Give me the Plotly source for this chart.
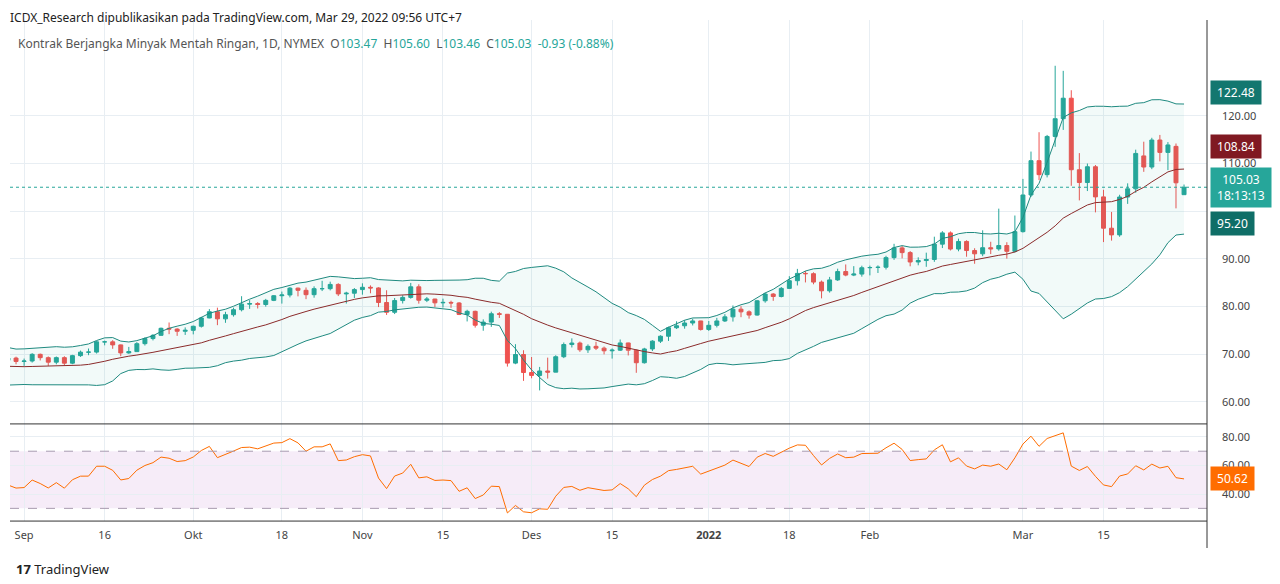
import io
import pandas as pd
import plotly.graph_objects as go

# Daily OHLC, Light Sweet Crude futures (NYMEX, continuous)
raw = """date,open,high,low,close
2021-08-02,73.70,73.90,70.90,71.26
2021-08-03,71.26,71.60,70.10,70.56
2021-08-04,70.56,70.90,67.80,68.15
2021-08-05,68.15,69.50,67.70,69.09
2021-08-06,69.09,69.40,67.80,68.28
2021-08-09,68.28,68.40,65.60,66.48
2021-08-10,66.48,68.60,66.30,68.29
2021-08-11,68.29,69.70,68.00,69.25
2021-08-12,69.25,69.60,68.40,69.09
2021-08-13,69.09,69.20,67.90,68.44
2021-08-16,68.44,68.50,65.90,67.29
2021-08-17,67.29,67.60,65.90,66.59
2021-08-18,66.59,67.00,65.20,65.46
2021-08-19,65.46,65.60,63.30,63.50
2021-08-20,63.50,63.70,61.70,62.32
2021-08-23,62.32,65.80,62.10,65.64
2021-08-24,65.64,67.70,65.50,67.54
2021-08-25,67.54,68.50,67.00,68.36
2021-08-26,68.36,68.60,67.00,67.42
2021-08-27,67.42,69.00,66.90,68.74
2021-08-30,68.74,69.80,68.30,69.21
2021-08-31,69.21,69.50,67.90,68.50
2021-09-01,68.50,69.10,67.58,68.59
2021-09-02,68.59,70.24,68.27,69.99
2021-09-03,69.99,70.15,68.71,69.29
2021-09-07,69.29,69.55,67.57,68.35
2021-09-08,68.35,69.54,67.90,69.30
2021-09-09,69.30,69.59,67.70,68.14
2021-09-10,68.14,69.89,67.93,69.72
2021-09-13,69.72,70.78,69.45,70.45
2021-09-14,70.45,71.21,69.81,70.46
2021-09-15,70.46,72.81,70.16,72.61
2021-09-16,72.61,72.87,71.88,72.61
2021-09-17,72.61,72.96,71.15,71.97
2021-09-20,71.97,72.05,69.60,70.29
2021-09-21,70.29,71.55,70.10,70.56
2021-09-22,70.56,72.55,70.52,72.23
2021-09-23,72.23,73.56,71.84,73.30
2021-09-24,73.30,74.23,72.91,73.98
2021-09-27,73.98,75.60,73.88,75.45
2021-09-28,75.45,76.67,74.22,75.29
2021-09-29,75.29,75.48,73.86,74.83
2021-09-30,74.83,75.64,74.06,75.03
2021-10-01,75.03,76.00,74.18,75.88
2021-10-04,75.88,77.85,75.60,77.62
2021-10-05,77.62,79.48,77.55,78.93
2021-10-06,78.93,79.78,76.11,77.43
2021-10-07,77.43,78.91,76.60,78.30
2021-10-08,78.30,79.78,77.90,79.35
2021-10-11,79.35,82.18,79.00,80.52
2021-10-12,80.52,81.35,79.53,80.64
2021-10-13,80.64,80.94,79.61,80.44
2021-10-14,80.44,81.62,79.99,81.31
2021-10-15,81.31,82.43,81.15,82.28
2021-10-18,82.28,83.15,80.63,82.44
2021-10-19,82.44,84.10,81.93,83.87
2021-10-20,83.87,83.99,82.15,83.42
2021-10-21,83.42,84.01,81.56,82.50
2021-10-22,82.50,84.25,81.87,83.76
2021-10-25,83.76,85.41,83.26,83.76
2021-10-26,83.76,85.23,83.40,84.65
2021-10-27,84.65,84.90,82.21,82.66
2021-10-28,82.66,83.11,80.64,82.81
2021-10-29,82.81,83.89,81.80,83.57
2021-11-01,83.57,84.88,82.50,84.05
2021-11-02,84.05,84.45,82.80,83.91
2021-11-03,83.91,84.06,79.90,80.86
2021-11-04,80.86,83.43,78.25,78.81
2021-11-05,78.81,81.80,78.44,81.27
2021-11-08,81.27,82.38,80.65,81.93
2021-11-09,81.93,84.97,81.66,84.15
2021-11-10,84.15,84.68,80.62,81.34
2021-11-11,81.34,82.02,80.95,81.59
2021-11-12,81.59,81.63,79.90,80.79
2021-11-15,80.79,81.66,79.82,80.88
2021-11-16,80.88,81.24,79.74,80.76
2021-11-17,80.76,80.95,78.22,78.36
2021-11-18,78.36,79.34,76.89,79.01
2021-11-19,79.01,79.15,75.60,76.10
2021-11-22,76.10,77.32,74.94,76.75
2021-11-23,76.75,78.94,75.75,78.50
2021-11-24,78.50,78.85,77.62,78.39
2021-11-26,78.39,78.42,67.42,68.15
2021-11-29,68.15,72.12,67.92,69.95
2021-11-30,69.95,70.85,64.43,66.18
2021-12-01,66.18,69.43,64.97,65.57
2021-12-02,65.57,67.35,62.43,66.50
2021-12-03,66.50,69.30,64.91,66.26
2021-12-06,66.26,69.80,66.25,69.49
2021-12-07,69.49,72.48,69.20,72.05
2021-12-08,72.05,73.34,71.43,72.36
2021-12-09,72.36,72.67,70.51,70.94
2021-12-10,70.94,72.08,70.29,71.67
2021-12-13,71.67,72.62,70.89,71.29
2021-12-14,71.29,71.62,69.98,70.73
2021-12-15,70.73,71.23,69.10,70.87
2021-12-16,70.87,73.10,70.69,72.38
2021-12-17,72.38,72.43,69.76,70.86
2021-12-20,70.86,70.98,66.12,68.23
2021-12-21,68.23,71.36,68.05,71.12
2021-12-22,71.12,72.96,70.68,72.76
2021-12-23,72.76,73.99,72.37,73.79
2021-12-27,73.79,75.80,72.80,75.57
2021-12-28,75.57,76.92,75.30,75.98
2021-12-29,75.98,77.16,75.37,76.56
2021-12-30,76.56,77.46,76.05,76.99
2021-12-31,76.99,77.01,74.97,75.21
2022-01-03,75.21,76.98,74.90,76.08
2022-01-04,76.08,77.64,75.63,76.99
2022-01-05,76.99,78.42,76.77,77.85
2022-01-06,77.85,80.24,76.86,79.46
2022-01-07,79.46,80.08,77.78,78.90
2022-01-10,78.90,79.20,77.47,78.23
2022-01-11,78.23,81.40,78.11,81.22
2022-01-12,81.22,82.94,80.82,82.64
2022-01-13,82.64,82.83,81.21,82.12
2022-01-14,82.12,84.11,81.93,83.82
2022-01-18,83.82,86.38,83.72,85.43
2022-01-19,85.43,87.91,84.43,86.96
2022-01-20,86.96,87.45,85.07,86.90
2022-01-21,86.90,87.19,84.68,85.14
2022-01-24,85.14,85.47,81.73,83.31
2022-01-25,83.31,86.23,82.93,85.60
2022-01-26,85.60,87.95,85.38,87.35
2022-01-27,87.35,88.84,86.36,86.61
2022-01-28,86.61,88.48,86.39,86.82
2022-01-31,86.82,88.58,86.28,88.15
2022-02-01,88.15,88.59,86.55,88.20
2022-02-02,88.20,88.65,87.05,88.26
2022-02-03,88.26,90.66,87.78,90.27
2022-02-04,90.27,93.17,89.80,92.31
2022-02-07,92.31,92.73,90.11,91.32
2022-02-08,91.32,91.65,88.45,89.36
2022-02-09,89.36,90.34,88.66,89.66
2022-02-10,89.66,91.31,88.35,89.88
2022-02-11,89.88,94.66,89.39,93.10
2022-02-14,93.10,95.82,92.28,95.46
2022-02-15,95.46,95.77,91.77,92.07
2022-02-16,92.07,94.25,91.60,93.66
2022-02-17,93.66,93.91,90.46,91.76
2022-02-18,91.76,92.24,88.98,91.07
2022-02-22,91.07,96.00,90.57,92.35
2022-02-23,92.35,93.60,91.02,92.10
2022-02-24,92.10,100.54,91.72,92.81
2022-02-25,92.81,93.50,90.06,91.59
2022-02-28,91.59,99.10,91.34,95.72
2022-03-01,95.72,106.78,95.53,103.41
2022-03-02,103.41,112.51,103.00,110.60
2022-03-03,110.60,116.57,106.53,107.67
2022-03-04,107.67,116.00,107.09,115.68
2022-03-07,115.68,130.50,113.50,119.40
2022-03-08,119.40,129.44,117.05,123.70
2022-03-09,123.70,125.37,105.33,108.70
2022-03-10,108.70,112.19,102.27,106.02
2022-03-11,106.02,110.00,104.23,109.33
2022-03-14,109.33,109.69,99.76,103.01
2022-03-15,103.01,104.49,93.53,96.44
2022-03-16,96.44,99.85,93.84,95.04
2022-03-17,95.04,103.45,94.64,102.98
2022-03-18,102.98,105.85,101.54,104.70
2022-03-21,104.70,112.91,103.86,112.12
2022-03-22,111.60,114.58,108.26,109.27
2022-03-23,109.27,115.40,108.82,114.93
2022-03-24,114.93,116.00,110.45,112.34
2022-03-25,112.34,114.50,108.63,113.90
2022-03-28,113.60,114.20,100.60,105.96
2022-03-29,103.47,105.60,103.46,105.03
"""
df = pd.read_csv(io.StringIO(raw), parse_dates=["date"])

# Bollinger Bands (20, 2) and RSI (14) like TradingView
df["basis"] = df["close"].rolling(20).mean()
sd = df["close"].rolling(20).std(ddof=0)
df["upper"] = df["basis"] + 2 * sd
df["lower"] = df["basis"] - 2 * sd
delta = df["close"].diff()
gain = delta.clip(lower=0).ewm(alpha=1 / 14, adjust=False).mean()
loss = (-delta.clip(upper=0)).ewm(alpha=1 / 14, adjust=False).mean()
df["rsi"] = 100 - 100 / (1 + gain / loss)

# bar index, Sep 1 = 0 (weekends/holidays skipped like TradingView)
start = df.index[df["date"] == "2021-09-01"][0]
df["i"] = df.index - start
d = df[df["i"] >= -2]

tick_dates = {"2021-09-01": "Sep", "2021-09-16": "16", "2021-10-01": "Okt", "2021-10-18": "18",
              "2021-11-01": "Nov", "2021-11-15": "15", "2021-12-01": "Des", "2021-12-15": "15",
              "2022-01-03": "<b>2022</b>", "2022-01-18": "18", "2022-02-01": "Feb",
              "2022-03-01": "Mar", "2022-03-15": "15"}
tickvals = [int(df.loc[df["date"] == k, "i"].iloc[0]) for k in tick_dates]
ticktext = list(tick_dates.values())

UP, DOWN = "#26a69a", "#ef5350"
BAND, MID = "#1f8a80", "#8b2b2b"
RSI_C = "#ff6d00"
GRID = "#e8eef3"

fig = go.Figure()
fig.add_trace(go.Scatter(x=d["i"], y=d["upper"], mode="lines", line=dict(color=BAND, width=1),
                         hoverinfo="skip"))
fig.add_trace(go.Scatter(x=d["i"], y=d["lower"], mode="lines", line=dict(color=BAND, width=1),
                         fill="tonexty", fillcolor="rgba(38,166,154,0.06)", hoverinfo="skip"))
fig.add_trace(go.Scatter(x=d["i"], y=d["basis"], mode="lines", line=dict(color=MID, width=1),
                         hoverinfo="skip"))
fig.add_trace(go.Candlestick(x=d["i"], open=d["open"], high=d["high"], low=d["low"], close=d["close"],
                             increasing=dict(line=dict(color=UP, width=1), fillcolor=UP),
                             decreasing=dict(line=dict(color=DOWN, width=1), fillcolor=DOWN),
                             whiskerwidth=0))
fig.add_trace(go.Scatter(x=d["i"], y=d["rsi"], mode="lines", line=dict(color=RSI_C, width=1),
                         xaxis="x2", yaxis="y2"))

last = df.iloc[-1]
xr = [-1.75, 146.85]
axis_font = dict(family="Noto Sans, DejaVu Sans", size=11, color="#444")
price_ticks = list(range(60, 121, 10))
price_text = ["" if v == 100 else f"{v:.2f}" for v in price_ticks]  # 100 hidden under price tag

# page body has an 8px margin, so offsets are shifted by 8px
fig.update_layout(
    width=1280, height=584, paper_bgcolor="white", plot_bgcolor="white",
    margin=dict(l=2, r=81, t=12, b=44, autoexpand=False), showlegend=False,
    font=dict(family="Noto Sans, DejaVu Sans", size=11, color="#444"),
    xaxis=dict(range=xr, tickvals=tickvals, showticklabels=False, gridcolor=GRID,
               rangeslider=dict(visible=False), zeroline=False, anchor="y", automargin=False),
    yaxis=dict(domain=[0.235, 1], range=[55.4, 140.1], side="right", tickvals=price_ticks,
               ticktext=price_text, gridcolor=GRID, zeroline=False, tickfont=axis_font,
               ticklabelstandoff=14, automargin=False),
    xaxis2=dict(range=xr, tickvals=tickvals, ticktext=ticktext, gridcolor=GRID, anchor="y2",
                zeroline=False, tickfont=axis_font, ticks="", ticklabelstandoff=6, automargin=False),
    yaxis2=dict(domain=[0.051, 0.235], range=[21.1, 89.1], side="right", tickvals=[40, 60, 80],
                tickformat=".2f", gridcolor=GRID, zeroline=False, tickfont=axis_font,
                ticklabelstandoff=14, automargin=False),
)

shapes = [
    dict(type="rect", xref="x2", yref="y2", x0=xr[0], x1=xr[1], y0=30, y1=70,
         fillcolor="rgba(156,39,176,0.09)", line=dict(width=0), layer="below"),
    dict(type="line", xref="x2", yref="y2", x0=xr[0], x1=xr[1], y0=70, y1=70,
         line=dict(color="#a89bb0", width=1, dash="dash")),
    dict(type="line", xref="x2", yref="y2", x0=xr[0], x1=xr[1], y0=30, y1=30,
         line=dict(color="#a89bb0", width=1, dash="dash")),
    dict(type="line", xref="x", yref="y", x0=xr[0], x1=xr[1], y0=last["close"], y1=last["close"],
         line=dict(color=UP, width=1, dash="dot")),
    dict(type="line", xref="paper", yref="paper", x0=0, x1=1, y0=0.235, y1=0.235,
         line=dict(color="#333", width=1)),
    dict(type="line", xref="paper", yref="paper", x0=0, x1=1, y0=0.051, y1=0.051,
         line=dict(color="#333", width=1)),
    dict(type="line", xref="paper", yref="paper", x0=1, x1=1, y0=0, y1=1.0,
         line=dict(color="#333", width=1)),
]
fig.update_layout(shapes=shapes)


def tag(y, text, bg, yref="y"):
    fig.add_annotation(x=1, xref="paper", y=y, yref=yref, text=text, showarrow=False,
                       xanchor="left", xshift=3, bgcolor=bg, borderpad=3,
                       font=dict(color="white", size=12, family="Noto Sans, DejaVu Sans"))


# price tags nudged apart so they do not sit on the tick labels
tag(last["upper"] + 2.5, f" {last['upper']:.2f} ", "#13776f")
tag(last["basis"] + 4.7, f" {last['basis']:.2f} ", "#801922")
tag(last["close"], f" {last['close']:.2f} <br> 18:13:13 ", "#26a69a")
tag(last["lower"] + 2.3, f" {last['lower']:.2f} ", "#0f6e67")
tag(last["rsi"], f" {last['rsi']:.2f} ", "#ff6d00", yref="y2")

fig.add_annotation(x=0, y=1.0, xref="paper", yref="paper", xanchor="left", yanchor="bottom",
                   xshift=-2, yshift=-8, showarrow=False,
                   text="ICDX_Research dipublikasikan pada TradingView.com, Mar 29, 2022 09:56 UTC+7",
                   font=dict(size=12, color="#222"))
chg = last["close"] - df.iloc[-2]["close"]
num = f"<span style='color:{UP}'>"
fig.add_annotation(x=0, y=1.0, xref="paper", yref="paper", xanchor="left", yanchor="top",
                   xshift=6, yshift=-13, showarrow=False,
                   text=(f"Kontrak Berjangka Minyak Mentah Ringan, 1D, NYMEX  "
                         f"O{num}{last['open']:.2f}</span>  H{num}{last['high']:.2f}</span>  "
                         f"L{num}{last['low']:.2f}</span>  C{num}{last['close']:.2f}</span>  "
                         f"{num}{chg:+.2f} ({chg / df.iloc[-2]['close'] * 100:+.2f}%)</span>"),
                   font=dict(size=12, color="#555"))
fig.add_annotation(x=0, y=0, xref="paper", yref="paper", xanchor="left", yanchor="top",
                   xshift=4, yshift=-10, showarrow=False, text="<b>17</b> TradingView",
                   font=dict(size=13, color="#222"))

fig.write_html("out.html")
